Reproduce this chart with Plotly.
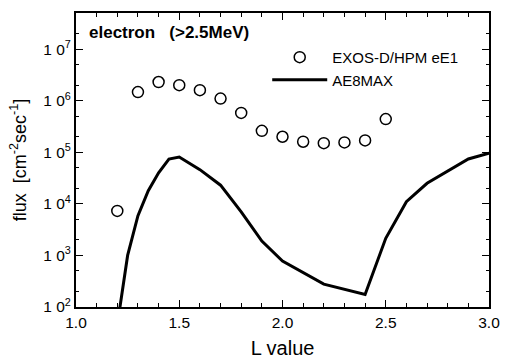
import plotly.graph_objects as go

# EXOS-D/HPM eE1 electron flux (>2.5 MeV) versus L
l_obs = [1.2, 1.3, 1.4, 1.5, 1.6, 1.7, 1.8, 1.9, 2.0, 2.1, 2.2, 2.3, 2.4, 2.5]
flux_obs = [7.3e3, 1.47e6, 2.3e6, 2.0e6, 1.6e6, 1.1e6, 5.8e5, 2.6e5, 2.0e5,
            1.6e5, 1.5e5, 1.55e5, 1.7e5, 4.4e5]

# AE8MAX model flux
l_model = [1.2, 1.25, 1.3, 1.35, 1.4, 1.45, 1.5, 1.6, 1.7, 1.8, 1.9, 2.0,
           2.2, 2.4, 2.5, 2.6, 2.7, 2.8, 2.9, 3.0]
flux_model = [45, 1.0e3, 5.9e3, 1.8e4, 4.0e4, 7.4e4, 8.1e4, 4.6e4, 2.3e4,
              7.0e3, 1.9e3, 780, 277, 175, 2.15e3, 1.1e4, 2.5e4, 4.3e4,
              7.4e4, 9.6e4]

x_ticks = [1.0, 1.5, 2.0, 2.5, 3.0]
y_exps = [2, 3, 4, 5, 6, 7]

FONT = "Liberation Sans, Arial, Helvetica, sans-serif"

fig = go.Figure()
fig.add_trace(go.Scatter(
    x=l_obs, y=flux_obs, mode="markers", name="EXOS-D/HPM eE1",
    marker=dict(symbol="circle-open", size=11, color="black",
                line=dict(width=1.5, color="black")),
))
fig.add_trace(go.Scatter(
    x=l_model, y=flux_model, mode="lines", name="AE8MAX",
    line=dict(color="black", width=3),
))

fig.update_layout(
    width=505, height=363,
    margin=dict(l=76, r=16, t=13, b=56),
    paper_bgcolor="white", plot_bgcolor="white",
    font=dict(family=FONT, color="black", size=15),
    showlegend=True,
    legend=dict(
        x=0.463, y=0.905, xanchor="left", yanchor="top",
        bgcolor="rgba(0,0,0,0)", borderwidth=0,
        font=dict(size=15, family=FONT), itemwidth=55,
        tracegroupgap=0,
    ),
    annotations=[dict(
        text="<b>electron   (&gt;2.5MeV)</b>", xref="paper", yref="paper",
        x=0.027, y=0.972, xanchor="left", yanchor="top", showarrow=False,
        font=dict(size=17, family=FONT),
    )],
)

fig.update_xaxes(
    range=[1.0, 3.0], tickvals=x_ticks,
    ticktext=[f"{v:.1f}" for v in x_ticks],
    ticks="inside", ticklen=7, tickwidth=1.2, tickcolor="black",
    minor=dict(ticks="inside", ticklen=4, dtick=0.1, tickcolor="black"),
    showline=True, linewidth=2, linecolor="black", mirror="ticks",
    showgrid=False, zeroline=False, automargin=False,
    title=dict(text="L value", font=dict(size=20), standoff=11),
    tickfont=dict(size=15.5),
)
fig.update_yaxes(
    type="log", range=[2, 7.7],
    tickvals=[10 ** e for e in y_exps],
    ticktext=[f"1 0<sup>{e}</sup>" for e in y_exps],
    ticks="inside", ticklen=7, tickwidth=1.2, tickcolor="black",
    minor=dict(ticks="inside", ticklen=3, tickcolor="black"),
    showline=True, linewidth=2, linecolor="black", mirror="ticks",
    showgrid=False, zeroline=False, automargin=False,
    title=dict(text="flux  [cm<sup>-2</sup>sec<sup>-1</sup>]", font=dict(size=18), standoff=12),
    tickfont=dict(size=15.5),
)

fig.write_html("out.html")
